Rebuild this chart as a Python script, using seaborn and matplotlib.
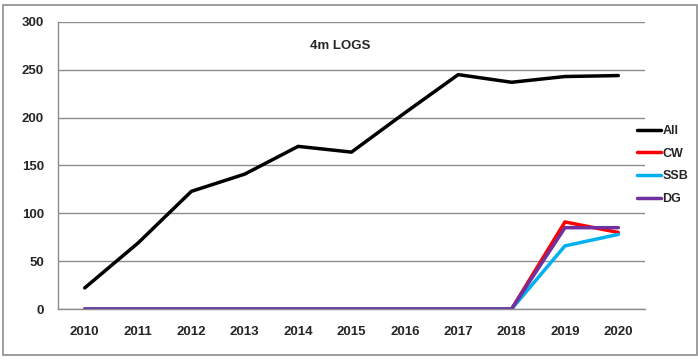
import pandas as pd
import matplotlib.pyplot as plt
import seaborn as sns
from matplotlib.patches import Rectangle
from matplotlib.lines import Line2D

years = ['2010', '2011', '2012', '2013', '2014', '2015', '2016', '2017', '2018', '2019', '2020']
all_logs = [22, 69, 123, 141, 170, 164, 205, 245, 237, 243, 244]
cw = [0, 0, 0, 0, 0, 0, 0, 0, 0, 91, 80]
ssb = [0, 0, 0, 0, 0, 0, 0, 0, 0, 66, 78]
dg = [0, 0, 0, 0, 0, 0, 0, 0, 0, 85, 85]

series_names = ['All', 'CW', 'SSB', 'DG']
series_colors = ['#000000', '#ff0000', '#00b0f0', '#7030a0']

df = pd.DataFrame({'year': years, 'All': all_logs, 'CW': cw, 'SSB': ssb, 'DG': dg})
long_df = df.melt(id_vars='year', var_name='series', value_name='logs')

sns.set_style('white')
plt.rcParams['font.family'] = ['Liberation Sans', 'DejaVu Sans']

fig = plt.figure(figsize=(6.98, 3.6), dpi=100)
# grey frame around the whole chart area, like the Excel chart border
fig.patches.append(Rectangle((3 / 698, 5 / 360), 694 / 698, 350 / 360,
                             transform=fig.transFigure, fill=False,
                             edgecolor='#8c8c8c', linewidth=1.2))
ax = fig.add_axes([58 / 698, 51 / 360, 587 / 698, 287 / 360])

sns.lineplot(data=long_df, x='year', y='logs', hue='series',
             hue_order=series_names, palette=series_colors,
             linewidth=2.5, ax=ax, legend=False, sort=False)

ax.set_xlim(-0.5, len(years) - 0.5)
ax.set_ylim(0, 300)
ax.set_yticks(range(0, 301, 50))
ax.yaxis.grid(True, color='#8c8c8c', linewidth=1)
ax.set_axisbelow(True)
ax.set_xlabel('')
ax.set_ylabel('')

# category ticks sit between the years, labels in the middle
ax.set_xticks(range(len(years)))
ax.set_xticklabels(years)
ax.set_xticks([i - 0.5 for i in range(len(years) + 1)], minor=True)
ax.tick_params(axis='x', which='major', length=0, pad=12, labelsize=9.5)
ax.tick_params(axis='x', which='minor', length=5, color='#8c8c8c', width=1, direction='out')
ax.tick_params(axis='y', length=5, color='#8c8c8c', width=1, direction='out', pad=5, labelsize=9.5)
for lab in ax.get_xticklabels() + ax.get_yticklabels():
    lab.set_fontweight('bold')

for side in ['top', 'right']:
    ax.spines[side].set_visible(False)
for side in ['left', 'bottom']:
    ax.spines[side].set_color('#8c8c8c')
    ax.spines[side].set_linewidth(1)

ax.text(0.48, 0.915, '4m LOGS', transform=ax.transAxes, ha='center', va='center',
        fontsize=9.5, fontweight='bold')

handles = [Line2D([], [], color=c, linewidth=2.5) for c in series_colors]
fig.legend(handles, series_names, loc='center left', bbox_to_anchor=(626 / 698, 195 / 360),
           frameon=False, handlelength=1.9, handletextpad=0.1, labelspacing=0.85,
           prop={'weight': 'bold', 'size': 9})

fig.savefig('out.png', dpi=100, facecolor='white')
